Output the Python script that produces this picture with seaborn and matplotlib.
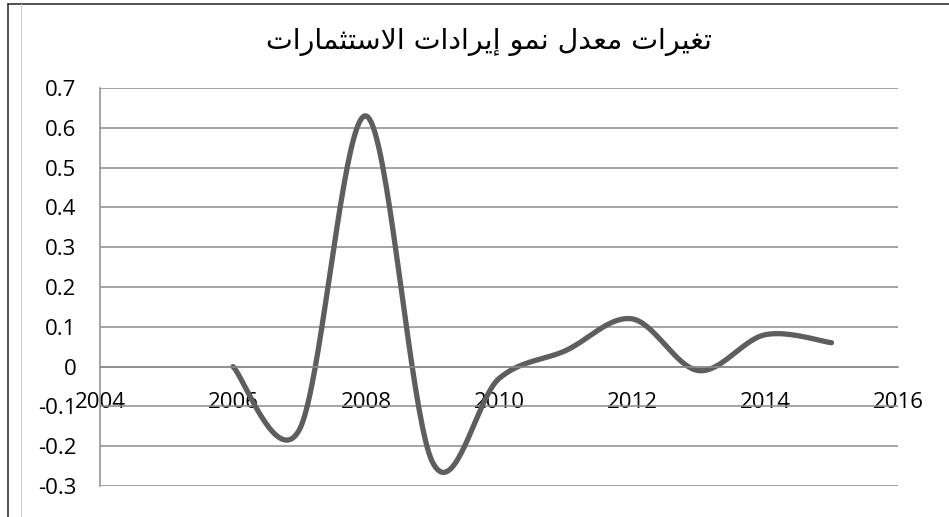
import numpy as np
import pandas as pd
import matplotlib
matplotlib.use("Agg")
import matplotlib.pyplot as plt
import seaborn as sns
from matplotlib.lines import Line2D

# chart data
title = "تغيرات معدل نمو إيرادات الاستثمارات"
years = [2006, 2007, 2008, 2009, 2010, 2011, 2012, 2013, 2014, 2015]
growth = [0.0, -0.158, 0.63, -0.24, -0.03, 0.04, 0.12, -0.01, 0.08, 0.06]
x_ticks = [2004, 2006, 2008, 2010, 2012, 2014, 2016]
y_ticks = [-0.3, -0.2, -0.1, 0, 0.1, 0.2, 0.3, 0.4, 0.5, 0.6, 0.7]


# matplotlib does no arabic shaping, so pick the presentation forms by hand
# (isolated, final, initial, medial); two forms = letter joins on the right only
FORMS = {
    "ا": ("\uFE8D", "\uFE8E"),
    "إ": ("\uFE87", "\uFE88"),
    "د": ("\uFEA9", "\uFEAA"),
    "ر": ("\uFEAD", "\uFEAE"),
    "و": ("\uFEED", "\uFEEE"),
    "ت": ("\uFE95", "\uFE96", "\uFE97", "\uFE98"),
    "ث": ("\uFE99", "\uFE9A", "\uFE9B", "\uFE9C"),
    "س": ("\uFEB1", "\uFEB2", "\uFEB3", "\uFEB4"),
    "ع": ("\uFEC9", "\uFECA", "\uFECB", "\uFECC"),
    "غ": ("\uFECD", "\uFECE", "\uFECF", "\uFED0"),
    "ل": ("\uFEDD", "\uFEDE", "\uFEDF", "\uFEE0"),
    "م": ("\uFEE1", "\uFEE2", "\uFEE3", "\uFEE4"),
    "ن": ("\uFEE5", "\uFEE6", "\uFEE7", "\uFEE8"),
    "ي": ("\uFEF1", "\uFEF2", "\uFEF3", "\uFEF4"),
}


def shape_arabic(text):
    out = []
    i = 0
    while i < len(text):
        c = text[i]
        if c not in FORMS:
            out.append(c)
            i += 1
            continue
        prev = text[i - 1] if i > 0 else ""
        joins_prev = prev in FORMS and len(FORMS[prev]) == 4
        # lam + alef ligature
        if c == "ل" and i + 1 < len(text) and text[i + 1] == "ا":
            out.append("\uFEFC" if joins_prev else "\uFEFB")
            i += 2
            continue
        nxt = text[i + 1] if i + 1 < len(text) else ""
        joins_next = len(FORMS[c]) == 4 and nxt in FORMS
        if joins_prev and joins_next:
            out.append(FORMS[c][3])
        elif joins_prev:
            out.append(FORMS[c][1])
        elif joins_next:
            out.append(FORMS[c][2])
        else:
            out.append(FORMS[c][0])
        i += 1
    return "".join(out)[::-1]


# excel style smoothed line (cubic bezier through every point)
def smooth(xs, ys, n=40):
    x = np.asarray(xs, float)
    y = np.asarray(ys, float)
    xp = np.concatenate([[x[0]], x, [x[-1]]])
    yp = np.concatenate([[y[0]], y, [y[-1]]])
    mx = (xp[2:] - xp[:-2]) / 2
    my = (yp[2:] - yp[:-2]) / 2
    t = np.linspace(0, 1, n)[:, None]
    sx, sy = [], []
    for i in range(len(x) - 1):
        px = [x[i], x[i] + mx[i] / 3, x[i + 1] - mx[i + 1] / 3, x[i + 1]]
        py = [y[i], y[i] + my[i] / 3, y[i + 1] - my[i + 1] / 3, y[i + 1]]
        b = np.hstack([(1 - t) ** 3, 3 * (1 - t) ** 2 * t, 3 * (1 - t) * t ** 2, t ** 3])
        sx.extend(b @ px)
        sy.extend(b @ py)
    return pd.DataFrame({"year": sx, "growth": sy})


curve = smooth(years, growth)

sns.set_style("white")
plt.rcParams["font.family"] = ["Open Sans", "DejaVu Sans"]
plt.rcParams["axes.unicode_minus"] = False

fig = plt.figure(figsize=(9.49, 5.17), dpi=100)
ax = fig.add_axes([100 / 949, 1 - 486 / 517, 798 / 949, 398 / 517])

sns.lineplot(data=curve, x="year", y="growth", sort=False, estimator=None,
             color="#5e5e5e", linewidth=3.8, ax=ax)

grid_col = "#8c8c8c"
ax.set_xlim(x_ticks[0], x_ticks[-1])
ax.set_ylim(y_ticks[0], y_ticks[-1])
ax.set_xticks(x_ticks)
ax.set_xticklabels([str(v) for v in x_ticks])
ax.set_yticks(y_ticks)
ax.set_yticklabels([f"{v:g}" for v in y_ticks])
ax.yaxis.grid(True, color=grid_col, linewidth=1.1)
ax.set_axisbelow(True)
ax.set_xlabel("")
ax.set_ylabel("")

for side in ["top", "right"]:
    ax.spines[side].set_visible(False)
ax.spines["left"].set_color(grid_col)
ax.spines["left"].set_linewidth(1.1)
ax.spines["bottom"].set_position(("data", 0))
ax.spines["bottom"].set_color(grid_col)
ax.spines["bottom"].set_linewidth(1.1)

ax.tick_params(axis="x", direction="out", length=4, width=1.1, color=grid_col,
               pad=14, labelsize=16, labelcolor="black")
ax.tick_params(axis="y", direction="out", length=6, width=1.1, color=grid_col,
               pad=11, labelsize=16, labelcolor="black")

fig.text(489 / 949, 1 - 42 / 517, shape_arabic(title), ha="center", va="center",
         fontsize=20.5, family="DejaVu Sans", color="black")

# chart frame
fig.add_artist(Line2D([8 / 949, 1], [1 - 4 / 517, 1 - 4 / 517], color="#333333", lw=1.2))
fig.add_artist(Line2D([8 / 949, 8 / 949], [0, 1 - 4 / 517], color="#333333", lw=1.2))
fig.add_artist(Line2D([21 / 949, 21 / 949], [0, 1 - 4 / 517], color="#cccccc", lw=0.8))

fig.savefig("out.png", dpi=100)
